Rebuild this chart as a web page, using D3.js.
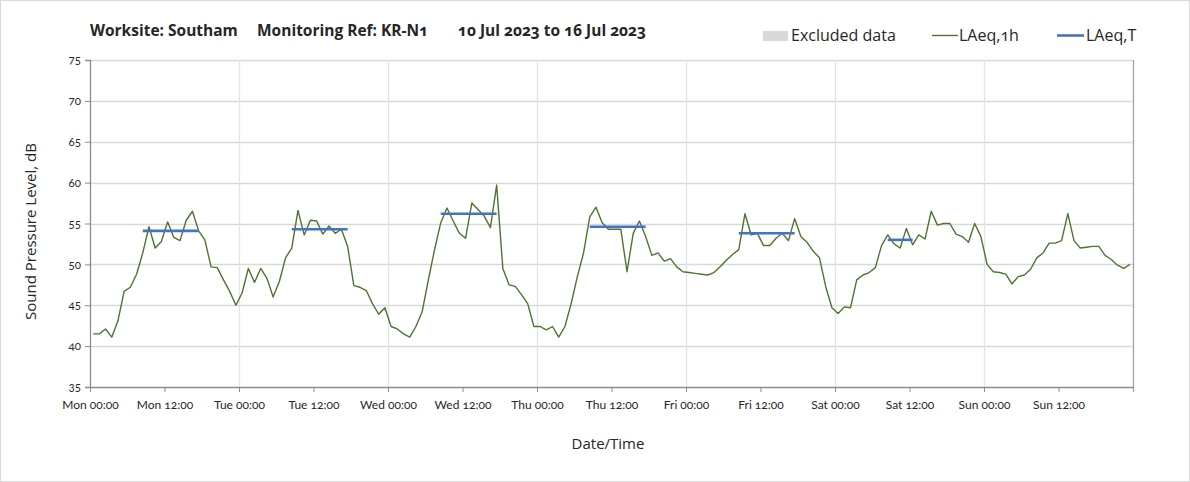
<!DOCTYPE html>
<html>
<head>
<meta charset="utf-8">
<script src="https://cdn.jsdelivr.net/npm/d3@7"></script>
<style>
  html, body { margin: 0; padding: 0; background: #fff; }
  svg text { fill: #262626; font-feature-settings: "onum"; }
  .sans-a { font-family: Lato, "Noto Sans", sans-serif; }
  .sans-b { font-family: "Open Sans", Lato, sans-serif; }
</style>
</head>
<body>
<svg id="chart" width="1190" height="482"></svg>
<script>
// Hourly LAeq,1h (dB) for each day, 00:00 to 23:00
const monLAeq1h = [41.5, 41.5, 42.1, 41.1, 43.1, 46.7, 47.2, 48.8, 51.4, 54.6, 52.0, 52.8, 55.2, 53.3, 52.9, 55.4, 56.5, 54.1, 53.0, 49.7, 49.6, 48.1, 46.7, 45.0];
const tueLAeq1h = [46.5, 49.5, 47.8, 49.5, 48.3, 46.0, 47.9, 50.8, 52.0, 56.6, 53.6, 55.4, 55.3, 53.7, 54.7, 53.8, 54.3, 52.2, 47.4, 47.2, 46.8, 45.2, 43.9, 44.7];
const wedLAeq1h = [42.4, 42.1, 41.5, 41.1, 42.4, 44.2, 48.1, 51.8, 55.1, 56.9, 55.3, 53.8, 53.2, 57.5, 56.7, 55.9, 54.5, 59.7, 49.5, 47.5, 47.3, 46.3, 45.2, 42.4];
const thuLAeq1h = [42.4, 42.0, 42.4, 41.1, 42.4, 45.2, 48.5, 51.4, 55.8, 57.0, 55.1, 54.3, 54.3, 54.3, 49.1, 53.8, 55.3, 53.4, 51.1, 51.4, 50.4, 50.7, 49.7, 49.1];
const friLAeq1h = [49.0, 48.9, 48.8, 48.7, 49.0, 49.7, 50.5, 51.2, 51.8, 56.2, 53.6, 53.8, 52.3, 52.3, 53.2, 53.8, 52.9, 55.6, 53.4, 52.7, 51.6, 50.8, 47.3, 44.7];
const satLAeq1h = [44.0, 44.8, 44.7, 48.1, 48.7, 49.0, 49.6, 52.3, 53.6, 52.5, 52.0, 54.4, 52.4, 53.6, 53.1, 56.5, 54.8, 55.0, 55.0, 53.7, 53.4, 52.7, 55.0, 53.4];
const sunLAeq1h = [50.0, 49.1, 49.0, 48.8, 47.6, 48.5, 48.7, 49.4, 50.8, 51.4, 52.6, 52.6, 52.9, 56.2, 52.9, 52.0, 52.1, 52.2, 52.2, 51.1, 50.6, 49.9, 49.5, 50.0];

// LAeq,T over each assessment period (day index, first and last hour)
const periodDay   = [0, 1, 2, 3, 4, 5];
const periodStart = [8, 8, 8, 8, 8, 8];
const periodEnd   = [17, 17, 17, 17, 17, 12];
const laeqT       = [54.1, 54.3, 56.2, 54.6, 53.8, 53.0];

// Axis labels
const tickLabels = ["Mon 00:00", "Mon 12:00", "Tue 00:00", "Tue 12:00", "Wed 00:00", "Wed 12:00", "Thu 00:00",
                    "Thu 12:00", "Fri 00:00", "Fri 12:00", "Sat 00:00", "Sat 12:00", "Sun 00:00", "Sun 12:00"];
const yTicks = [35, 40, 45, 50, 55, 60, 65, 70, 75];

const dailySeries = [monLAeq1h, tueLAeq1h, wedLAeq1h, thuLAeq1h, friLAeq1h, satLAeq1h, sunLAeq1h];
const hourly = dailySeries.flatMap((vals, d) => vals.map((v, h) => ({ t: d * 24 + h + 0.5, v })));

const svg = d3.select("#chart");
const W = 1190, H = 482;
const m = { left: 90, right: 1133, top: 60, bottom: 387 };

const x = d3.scaleLinear().domain([0, 168]).range([m.left, m.right]);
const y = d3.scaleLinear().domain([35, 75]).range([m.bottom, m.top]);

// outer frame
svg.append("rect").attr("x", 0.5).attr("y", 0.5).attr("width", W - 1).attr("height", H - 1)
  .attr("fill", "#fff").attr("stroke", "#d9d9d9");

// horizontal gridlines
svg.append("g").selectAll("line").data(yTicks.filter(v => v > 35)).join("line")
  .attr("x1", m.left).attr("x2", m.right)
  .attr("y1", d => Math.round(y(d)) + 0.5).attr("y2", d => Math.round(y(d)) + 0.5)
  .attr("stroke", "#d9d9d9").attr("stroke-width", 1.3);

// vertical gridlines at midnight
svg.append("g").selectAll("line").data(d3.range(24, 168, 24)).join("line")
  .attr("x1", d => Math.round(x(d)) + 0.5).attr("x2", d => Math.round(x(d)) + 0.5)
  .attr("y1", m.top).attr("y2", m.bottom)
  .attr("stroke", "#e3e3e3").attr("stroke-width", 1.3);

// right border of plot area
svg.append("line").attr("x1", m.right + 0.5).attr("x2", m.right + 0.5)
  .attr("y1", m.top).attr("y2", m.bottom + 5).attr("stroke", "#a6a6a6").attr("stroke-width", 1.3);

// y axis
const yAxis = d3.axisLeft(y).tickValues(yTicks).tickSize(5).tickPadding(4);
const gy = svg.append("g").attr("transform", `translate(${m.left},0)`).call(yAxis);
gy.select(".domain").attr("stroke", "#8c8c8c").attr("stroke-width", 1.3);
gy.selectAll(".tick line").attr("stroke", "#8c8c8c");
gy.selectAll(".tick text").attr("class", "sans-a").attr("font-size", 11.5).attr("fill", "#262626");

// x axis
const xAxis = d3.axisBottom(x).tickValues(d3.range(0, 168, 12))
  .tickFormat((d, i) => tickLabels[i]).tickSize(5).tickPadding(8).tickSizeOuter(0);
const gx = svg.append("g").attr("transform", `translate(0,${m.bottom})`).call(xAxis);
gx.select(".domain").attr("stroke", "#8c8c8c").attr("stroke-width", 1.3);
gx.selectAll(".tick line").attr("stroke", "#8c8c8c");
gx.selectAll(".tick text").attr("class", "sans-a").attr("font-size", 12).attr("fill", "#262626");

// LAeq,1h line
svg.append("path").datum(hourly)
  .attr("d", d3.line().x(d => x(d.t)).y(d => y(d.v)))
  .attr("fill", "none").attr("stroke", "#4d7530").attr("stroke-width", 1.4)
  .attr("stroke-linejoin", "round");

// LAeq,T segments
const periods = periodDay.map((d, i) => ({ d, s: periodStart[i], e: periodEnd[i], v: laeqT[i] }));
svg.append("g").selectAll("line").data(periods).join("line")
  .attr("x1", p => x(p.d * 24 + p.s + 0.5)).attr("x2", p => x(p.d * 24 + p.e + 0.5))
  .attr("y1", p => y(p.v)).attr("y2", p => y(p.v))
  .attr("stroke", "#4472c4").attr("stroke-width", 2.6);

// title
const title = svg.append("g");
[["Worksite: Southam", 90], ["Monitoring Ref: KR-N1", 257], ["10 Jul 2023 to 16 Jul 2023", 458]]
  .forEach(([t, tx]) => title.append("text").attr("class", "sans-b")
    .attr("x", tx).attr("y", 36).attr("font-weight", "bold").attr("font-size", 15.5).text(t));

// legend
const lg = svg.append("g");
lg.append("rect").attr("x", 763).attr("y", 31).attr("width", 25).attr("height", 10).attr("fill", "#d9d9d9");
lg.append("text").attr("x", 791).attr("y", 41).text("Excluded data");
lg.append("line").attr("x1", 932).attr("x2", 958).attr("y1", 35.5).attr("y2", 35.5)
  .attr("stroke", "#4d7530").attr("stroke-width", 1.4);
lg.append("text").attr("x", 959).attr("y", 41).text("LAeq,1h");
lg.append("line").attr("x1", 1057).attr("x2", 1084).attr("y1", 35.5).attr("y2", 35.5)
  .attr("stroke", "#4472c4").attr("stroke-width", 2.6);
lg.append("text").attr("x", 1086).attr("y", 41).text("LAeq,T");
lg.selectAll("text").attr("class", "sans-b").attr("font-size", 16);

// axis titles
svg.append("text").attr("class", "sans-b").attr("x", 608).attr("y", 449)
  .attr("text-anchor", "middle").attr("font-size", 15).text("Date/Time");
svg.append("text").attr("class", "sans-b")
  .attr("transform", `translate(36,${(m.top + m.bottom) / 2 + 8}) rotate(-90)`)
  .attr("text-anchor", "middle").attr("font-size", 15).text("Sound Pressure Level, dB");
</script>
</body>
</html>
